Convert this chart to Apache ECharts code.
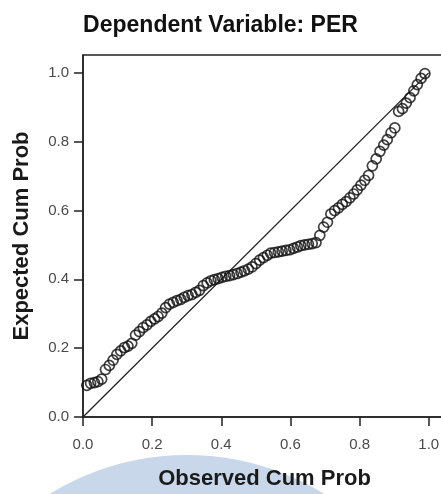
<!DOCTYPE html>
<html><head><meta charset="utf-8">
<script src="https://cdn.jsdelivr.net/npm/echarts@6/dist/echarts.min.js"></script>
<style>html,body{margin:0;padding:0;background:#fff}#c{width:441px;height:494px}</style>
</head><body><div id="c"></div>
<script>
const titleText = 'Dependent Variable: PER';
const xName = 'Observed Cum Prob';
const yName = 'Expected Cum Prob';
const tickValues = [0, 0.2, 0.4, 0.6, 0.8, 1.0];

const observed = [
  0.011,0.022,0.033,0.043,0.054,0.065,0.076,0.087,0.098,0.109,
  0.120,0.130,0.141,0.152,0.163,0.174,0.185,0.196,0.207,0.217,
  0.228,0.239,0.250,0.261,0.272,0.283,0.293,0.304,0.315,0.326,
  0.337,0.348,0.359,0.370,0.380,0.391,0.402,0.413,0.424,0.435,
  0.446,0.457,0.467,0.478,0.489,0.500,0.511,0.522,0.533,0.543,
  0.554,0.565,0.576,0.587,0.598,0.609,0.620,0.630,0.641,0.652,
  0.663,0.674,0.685,0.696,0.707,0.717,0.728,0.739,0.750,0.761,
  0.772,0.783,0.793,0.804,0.815,0.826,0.837,0.848,0.859,0.870,
  0.880,0.891,0.902,0.913,0.924,0.935,0.946,0.957,0.967,0.978,0.989
];
const expected = [
  0.092,0.098,0.100,0.103,0.110,0.138,0.150,0.165,0.182,0.192,
  0.202,0.206,0.214,0.238,0.248,0.260,0.268,0.278,0.285,0.292,
  0.302,0.318,0.328,0.333,0.338,0.342,0.348,0.353,0.356,0.362,
  0.368,0.382,0.390,0.396,0.399,0.402,0.406,0.409,0.411,0.414,
  0.417,0.421,0.425,0.430,0.436,0.446,0.456,0.463,0.470,0.476,
  0.478,0.480,0.482,0.484,0.486,0.490,0.494,0.498,0.500,0.502,
  0.504,0.507,0.528,0.552,0.566,0.590,0.600,0.608,0.618,0.626,
  0.637,0.648,0.660,0.674,0.688,0.702,0.730,0.750,0.772,0.790,
  0.806,0.826,0.840,0.888,0.896,0.912,0.928,0.948,0.966,0.984,0.998
];
const refStart = [0, 0];
const refEnd = [1, 1];

const points = observed.map((x, i) => [x, expected[i]]);
const font = 'Liberation Sans, Arial, Helvetica, sans-serif';
const axisColor = '#222';

const chart = echarts.init(document.getElementById('c'), null, {renderer: 'canvas'});
chart.setOption({
  animation: false,
  backgroundColor: '#fff',
  title: {
    text: titleText, left: 'center', top: 9,
    textStyle: {fontFamily: font, fontSize: 23, fontWeight: 'bold', color: '#111'}
  },
  graphic: [{
    type: 'circle', z: -10, silent: true,
    shape: {cx: 187, cy: 717, r: 262},
    style: {fill: '#c9d7eb'}
  }],
  grid: {left: 83, top: 55, width: 363, height: 362, show: true,
         borderColor: axisColor, borderWidth: 1.5, backgroundColor: 'transparent',
         outerBoundsMode: 'none', containLabel: false},
  xAxis: {
    type: 'value', min: 0, max: 1.05, interval: 0.2,
    name: xName, nameLocation: 'middle', nameGap: 51,
    nameTextStyle: {fontFamily: font, fontSize: 22, fontWeight: 'bold', color: '#1a1a1a'},
    axisLine: {show: true, onZero: false, lineStyle: {color: axisColor, width: 1.5}},
    axisTick: {show: true, length: 9, customValues: tickValues, lineStyle: {color: axisColor, width: 1.5}},
    axisLabel: {customValues: tickValues, margin: 20, fontFamily: font, fontSize: 15, color: '#4a4a4a',
                formatter: v => v.toFixed(1)},
    splitLine: {show: false}
  },
  yAxis: {
    type: 'value', min: 0, max: 1.052, interval: 0.2,
    name: yName, nameLocation: 'middle', nameGap: 50,
    nameTextStyle: {fontFamily: font, fontSize: 22, fontWeight: 'bold', color: '#1a1a1a'},
    axisLine: {show: true, onZero: false, lineStyle: {color: axisColor, width: 1.5}},
    axisTick: {show: true, length: 9, customValues: tickValues, lineStyle: {color: axisColor, width: 1.5}},
    axisLabel: {customValues: tickValues, margin: 14, fontFamily: font, fontSize: 15, color: '#4a4a4a',
                formatter: v => v.toFixed(1)},
    splitLine: {show: false}
  },
  series: [
    {
      type: 'line', data: [refStart, refEnd], symbol: 'none', z: 1,
      lineStyle: {color: '#222', width: 1.3}, silent: true
    },
    {
      type: 'scatter', data: points, symbol: 'circle', symbolSize: 10, z: 2,
      itemStyle: {color: 'rgba(0,0,0,0)', borderColor: '#111', borderWidth: 1.7}
    }
  ]
});
</script>
</body></html>
